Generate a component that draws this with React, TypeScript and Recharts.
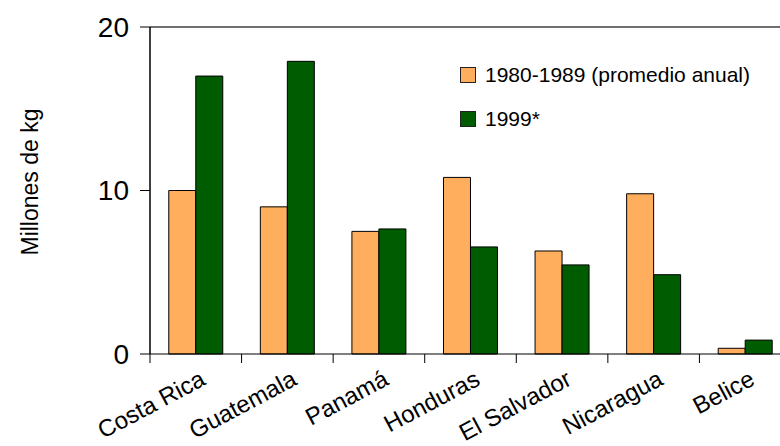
import React from 'react';
import { BarChart, Bar, XAxis, YAxis, ReferenceLine, Legend } from 'recharts';

const categories = ['Costa Rica', 'Guatemala', 'Panamá', 'Honduras', 'El Salvador', 'Nicaragua', 'Belice'];
const avg8089 = [10.0, 9.0, 7.5, 10.8, 6.3, 9.8, 0.35];
const y1999 = [17.0, 17.9, 7.65, 6.55, 5.45, 4.85, 0.85];
const yTicks = [0, 10, 20];
const seriesNames = ['1980-1989 (promedio anual)', '1999*'];
const colors = ['#FFAE5E', '#005C00'];

const data = categories.map((c, i) => ({ name: c, a: avg8089[i], b: y1999[i] }));

const CHART_W = 800;
const CHART_H = 446;
const MARGIN = { top: 27, right: 9, bottom: 0, left: 0 };
const Y_W = 150;
const HALF_BAND = (CHART_W - MARGIN.right - MARGIN.left - Y_W) / categories.length / 2;
const FONT = '"Liberation Sans", Arial, sans-serif';

const XTick = (props: any) => {
  const { x, y, payload } = props;
  const tx = x + 11;
  const ty = y + 30;
  return (
    <g>
      <line x1={x - HALF_BAND} x2={x - HALF_BAND} y1={y} y2={y + 9} stroke="#000" strokeWidth={1} />
      <text x={tx} y={ty} textAnchor="end" fontSize={24} fill="#000" fontFamily={FONT}
        transform={`rotate(-28 ${tx} ${ty})`}>{payload.value}</text>
    </g>
  );
};

const renderLegend = () => (
  <div style={{ fontFamily: FONT, fontSize: 21, color: '#000' }}>
    {seriesNames.map((n, i) => (
      <div key={n} style={{ display: 'flex', alignItems: 'center', height: 44 }}>
        <span style={{ display: 'inline-block', width: 14, height: 14, background: colors[i], border: '1px solid #222', marginRight: 9 }} />
        <span>{n}</span>
      </div>
    ))}
  </div>
);

export default function App() {
  return (
    <div style={{ position: 'absolute', left: 0, top: 0, width: 780, height: 446, overflow: 'hidden', background: '#fff', fontFamily: FONT }}>
      <BarChart width={CHART_W} height={CHART_H} data={data} margin={MARGIN} barCategoryGap="20.5%" barGap={0}>
        <XAxis dataKey="name" height={92} interval={0} tickSize={0} tickMargin={0} tickLine={false}
          axisLine={{ stroke: '#000', strokeWidth: 1 }} tick={<XTick />} />
        <YAxis width={Y_W} domain={[0, 20]} ticks={yTicks} tickSize={10} tickMargin={11}
          axisLine={{ stroke: '#000', strokeWidth: 1.5 }} tickLine={{ stroke: '#000', strokeWidth: 1 }}
          tick={{ fontSize: 28, fill: '#000', fontFamily: FONT }}
          label={{
            content: () => (
              <text x={38} y={182} transform="rotate(-90 38 182)" textAnchor="middle" fontSize={23} fill="#000" fontFamily={FONT}>
                Millones de kg
              </text>
            ),
          }} />
        <ReferenceLine y={20} stroke="#707070" strokeWidth={2} />
        <Legend layout="vertical" align="center" verticalAlign="middle" content={renderLegend}
          wrapperStyle={{ position: 'absolute', left: 460, top: 53, width: 320, height: 'auto' }} />
        <Bar dataKey="a" name={seriesNames[0]} fill={colors[0]} stroke="#000" strokeWidth={1} isAnimationActive={false} />
        <Bar dataKey="b" name={seriesNames[1]} fill={colors[1]} stroke="#000" strokeWidth={1} isAnimationActive={false} />
      </BarChart>
    </div>
  );
}
